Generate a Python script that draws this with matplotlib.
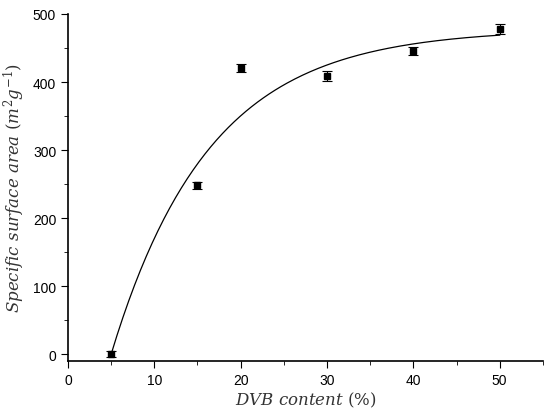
import numpy as np
import matplotlib
matplotlib.use('Agg')
import matplotlib.pyplot as plt
from matplotlib.ticker import MultipleLocator

plt.rcParams['font.family'] = ['Liberation Sans', 'DejaVu Sans']
plt.rcParams['mathtext.fontset'] = 'dejavuserif'

# measured points
dvb = [5, 15, 20, 30, 40, 50]
ssa = [0, 248, 421, 409, 445, 478]
ssa_err = [4, 5, 6, 7, 6, 7]

# exponential fit y = A*(1-exp(-k*(x-x0)))
fit_A = 478
fit_k = 0.088
fit_x0 = 5

fig = plt.figure(figsize=(5.5, 4.14), dpi=100)
ax = fig.add_axes([0.1236, 0.1256, 0.8634, 0.8382])

xf = np.linspace(fit_x0, 50, 200)
ax.plot(xf, fit_A * (1 - np.exp(-fit_k * (xf - fit_x0))), color='black', lw=0.9)
ax.errorbar(dvb, ssa, yerr=ssa_err, fmt='s', color='black', ms=4.2, capsize=3.5,
            elinewidth=0.8, capthick=0.8)

ax.set_xlim(0, 55)
ax.set_ylim(-10, 500)
ax.xaxis.set_major_locator(MultipleLocator(10))
ax.xaxis.set_minor_locator(MultipleLocator(5))
ax.yaxis.set_major_locator(MultipleLocator(100))
ax.yaxis.set_minor_locator(MultipleLocator(50))
ax.tick_params(which='both', direction='out', labelsize=10)
ax.tick_params(which='major', length=5)
ax.tick_params(which='minor', length=3)
for s in ['top', 'right']:
    ax.spines[s].set_visible(False)
for s in ['left', 'bottom']:
    ax.spines[s].set_linewidth(1.2)

ax.set_xlabel(r'$DVB\ content\ (\%)$', fontsize=12, labelpad=2, color='#333333')
ax.set_ylabel(r'$Specific\ surface\ area\ (m^2g^{-1})$', fontsize=12, labelpad=4,
              color='#333333')

fig.savefig('out.png', dpi=100)
